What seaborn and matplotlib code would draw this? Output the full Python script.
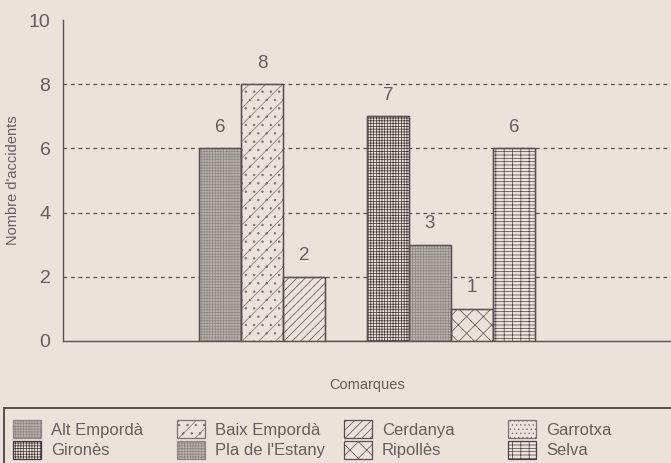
import matplotlib
matplotlib.use("Agg")
import matplotlib.pyplot as plt
from matplotlib.patches import Patch, Rectangle
import seaborn as sns
import pandas as pd

# Data
comarques = ["Alt Empordà", "Baix Empordà", "Cerdanya", "Garrotxa",
             "Gironès", "Pla de l'Estany", "Ripollès", "Selva"]
accidents = [6, 8, 2, 0, 7, 3, 1, 6]
y_ticks = [0, 2, 4, 6, 8, 10]

# Fill style per comarca (face colour, hatch, hatch/edge colour)
bg = "#ebe2da"
line_col = "#5a5052"
text_col = "#675d60"
styles = {
    "Alt Empordà": ("#b9b1ad", "++++++", "#8e8684"),
    "Baix Empordà": (bg, "//..", "#7a7274"),
    "Cerdanya": (bg, "////", line_col),
    "Garrotxa": (bg, "....", "#7a7274"),
    "Gironès": (bg, "++++++", "#3e3638"),
    "Pla de l'Estany": ("#b9b1ad", "++++++", "#8e8684"),
    "Ripollès": (bg, "xx", line_col),
    "Selva": (bg, "-----||", "#4a4244"),
}

sns.set_style("white")
plt.rcParams["font.family"] = ["Liberation Sans", "DejaVu Sans"]
plt.rcParams["hatch.linewidth"] = 0.5
plt.rcParams["text.color"] = text_col
plt.rcParams["axes.labelcolor"] = text_col
plt.rcParams["xtick.color"] = line_col
plt.rcParams["ytick.color"] = line_col
plt.rcParams["ytick.labelcolor"] = text_col

df = pd.DataFrame({"grup": ["all"] * len(comarques),
                   "comarca": comarques,
                   "n": accidents})

fig = plt.figure(figsize=(6.71, 4.63), dpi=100, facecolor=bg)
ax = fig.add_axes([63 / 671, 0.2635, 1 - 63 / 671, 0.9568 - 0.2635])
ax.set_facecolor(bg)

sns.barplot(data=df, x="grup", y="n", hue="comarca", hue_order=comarques,
            dodge=True, width=0.8, gap=0, errorbar=None, legend=False, ax=ax)

for name, cont in zip(comarques, ax.containers):
    fc, hatch, hc = styles[name]
    for p in cont:
        p.set_facecolor(fc)
        p.set_edgecolor(hc)
        p.set_hatch(hatch)
        p.set_linewidth(0.9)
        p.set_zorder(3)
        # darker outline on top of the hatched fill
        ax.add_patch(Rectangle(p.get_xy(), p.get_width(), p.get_height(),
                               fill=False, edgecolor=line_col, lw=1, zorder=4))
    ax.bar_label(cont, labels=[f"{v:.0f}" if v else "" for v in cont.datavalues],
                 padding=9, fontsize=13.5, color=text_col)

# dashed reference lines, hidden behind the bars
for t in y_ticks[1:-1]:
    ax.axhline(t, color=line_col, lw=0.9, ls=(0, (3, 3)), zorder=1)

a = 0.724
ax.set_xlim(-a, a)
ax.set_ylim(0, 10)
ax.set_yticks(y_ticks)
ax.tick_params(axis="y", direction="out", length=6, width=1, labelsize=14, pad=3)
ax.set_xticks([])
ax.set_xlabel("Comarques", fontsize=10.5, labelpad=27)
ax.set_ylabel("Nombre d'accidents", fontsize=10.5, labelpad=6)

for s in ["top", "right"]:
    ax.spines[s].set_visible(False)
for s in ["left", "bottom"]:
    ax.spines[s].set_color(line_col)
    ax.spines[s].set_linewidth(1)

# legend frame running off the page bottom and right
fig.patches.append(Rectangle((4 / 671, -0.05), 1.1, (463 - 408) / 463 + 0.05,
                             transform=fig.transFigure, facecolor=bg,
                             edgecolor="#4a4244", lw=1.3, zorder=0))

col_x = [13, 177, 344, 508]
for i, x in enumerate(col_x):
    pair = [comarques[i], comarques[i + 4]]
    handles = [Patch(facecolor=styles[n][0], edgecolor=styles[n][2],
                     hatch=styles[n][1], lw=0.9) for n in pair]
    fig.legend(handles, pair, loc="upper left",
               bbox_to_anchor=(x / 671, 1 - 420 / 463), frameon=False,
               fontsize=12, borderpad=0, borderaxespad=0,
               handlelength=1.68, handleheight=1.3, handletextpad=0.6,
               labelspacing=0.15, labelcolor=text_col)

fig.savefig("out.png", dpi=100, facecolor=bg)
